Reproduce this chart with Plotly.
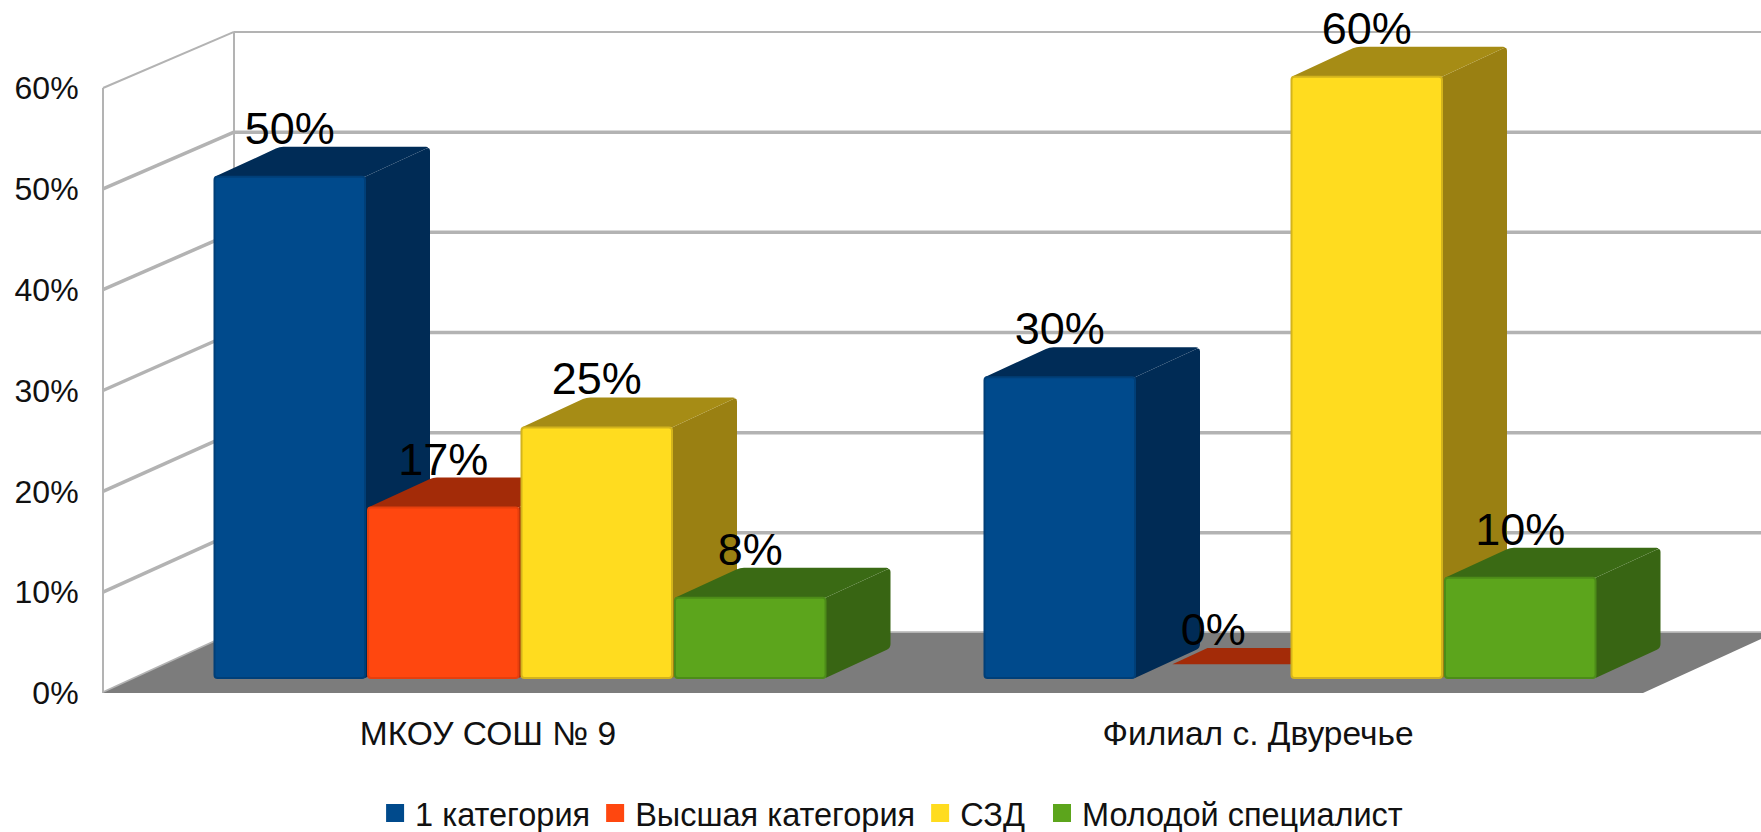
import plotly.graph_objects as go

# ---- data ----
categories = ["МКОУ СОШ № 9", "Филиал с. Двуречье"]
series_names = ["1 категория", "Высшая категория", "СЗД", "Молодой специалист"]
s1_values = [50, 30]
s2_values = [17, 0]
s3_values = [25, 60]
s4_values = [8, 10]
y_ticks = [0, 10, 20, 30, 40, 50, 60]
y_tick_labels = ["0%", "10%", "20%", "30%", "40%", "50%", "60%"]

# ---- style ----
front_colors = ["#004a8c", "#ff470f", "#ffdc1f", "#5ca51c"]
edge_colors = ["#003f78", "#e63f0d", "#d4b41c", "#4c8c18"]
side_colors = ["#002b55", "#a32b08", "#9a8012", "#386513"]
top_colors = ["#002c57", "#a32b08", "#a68c15", "#3a6a14"]
GRID = "#b3b3b3"
FLOOR = "#7c7c7c"
FONT = "Liberation Sans"

W, H = 1761, 832
PX_X = 770.0          # pixels per category
PX_Y = 10.083         # pixels per percent on the front plane
L, B = 101, 139
x0 = -0.5 - 2 / PX_X
x1 = x0 + (W - L) / PX_X
y1 = (H - B) / PX_Y

WALL_DX, WALL_DY = 131 / PX_X, 60 / PX_Y     # depth of the chart box
BAR_DX, BAR_DY = 65 / PX_X, 30 / PX_Y        # depth of a bar
PLANE_DX, PLANE_DY = 32 / PX_X, 15 / PX_Y    # bars stand half way in the box
BACK_SCALE = 0.9935   # perspective shrink of the back wall
BAR_SCALE = 0.994
SLOT = 153.5 / PX_X
BAR_W = 150.5 / PX_X
LABEL_RISE = 4.4


def rounded(points, corners=()):
    """SVG path in data units; vertices listed in corners get a small curve."""
    n = len(points)
    d = []
    for i, (x, y) in enumerate(points):
        if i in corners:
            px, py = points[i - 1]
            nx, ny = points[(i + 1) % n]

            def toward(ax, ay):
                ddx, ddy = (ax - x) * PX_X, (ay - y) * PX_Y
                dist = (ddx ** 2 + ddy ** 2) ** 0.5 or 1
                t = min(4 / dist, 0.5)
                return x + (ax - x) * t, y + (ay - y) * t

            a, b = toward(px, py), toward(nx, ny)
            d.append(f"{'L' if d else 'M'}{a[0]},{a[1]}")
            d.append(f"Q{x},{y} {b[0]},{b[1]}")
        else:
            d.append(f"{'L' if d else 'M'}{x},{y}")
    return " ".join(d) + " Z"


def poly(points, fill, corners=()):
    return dict(type="path", xref="x", yref="y", layer="below",
                path=rounded(points, corners=corners), fillcolor=fill,
                line=dict(width=0))


def seg(xa, ya, xb, yb, width):
    return dict(type="line", xref="x", yref="y", layer="below", x0=xa, y0=ya, x1=xb, y1=yb,
                line=dict(color=GRID, width=width))


shapes = []
xl = -0.5
xr = 1.5

# walls
top_tick = y_ticks[-1]
shapes.append(seg(xl, 0, xl, top_tick, 2))
shapes.append(seg(xl + WALL_DX, WALL_DY, xl + WALL_DX, WALL_DY + top_tick * BACK_SCALE, 2))
for t in y_ticks:
    width = 2 if t == top_tick else 3.5
    back = WALL_DY + t * BACK_SCALE
    shapes.append(seg(xl, t, xl + WALL_DX, back, width))
    shapes.append(seg(xl + WALL_DX, back, x1 + 1, back, width))

# floor
shapes.append(poly([(xl, 0), (xr, 0), (xr + WALL_DX, WALL_DY), (xl + WALL_DX, WALL_DY)], FLOOR))

all_values = [s1_values, s2_values, s3_values, s4_values]
fig = go.Figure()
label_x, label_y, label_t = [], [], []
base = PLANE_DY

for si, values in enumerate(all_values):
    xs, ys, lws = [], [], []
    for ci, v in enumerate(values):
        cx = ci + PLANE_DX + (si - 1.5) * SLOT
        a, b = cx - BAR_W / 2, cx + BAR_W / 2
        top = base + v * BAR_SCALE
        if v > 0:
            shapes.append(poly([(b, base), (b + BAR_DX, base + BAR_DY),
                                (b + BAR_DX, top + BAR_DY), (b, top)],
                               side_colors[si], corners=(1, 2)))
            shapes.append(poly([(a, top), (a + BAR_DX, top + BAR_DY),
                                (b + BAR_DX, top + BAR_DY), (b, top)],
                               top_colors[si], corners=(1, 2)))
        else:
            f = 0.46
            a2 = cx - SLOT / 2 + 6 / PX_X
            shapes.append(poly([(a2 + f * BAR_DX, top + f * BAR_DY), (a2 + BAR_DX, top + BAR_DY),
                                (b + BAR_DX, top + BAR_DY), (b + f * BAR_DX, top + f * BAR_DY)],
                               top_colors[si]))
        xs.append(cx)
        ys.append(v * BAR_SCALE)
        lws.append(2 if v > 0 else 0)
        label_x.append(cx)
        label_y.append(top + LABEL_RISE)
        label_t.append(f"{v}%")
    fig.add_trace(go.Bar(x=xs, y=ys, base=base, width=BAR_W, name=series_names[si],
                         marker=dict(color=front_colors[si], cornerradius=3,
                                     line=dict(color=edge_colors[si], width=lws)),
                         showlegend=False, hoverinfo="skip"))

fig.add_trace(go.Scatter(x=label_x, y=label_y, text=label_t, mode="text",
                         textposition="middle center",
                         textfont=dict(family=FONT, size=45, color="#000000"),
                         showlegend=False, hoverinfo="skip", cliponaxis=False))

for si, name in enumerate(series_names):
    fig.add_trace(go.Scatter(x=[None], y=[None], mode="markers", name=name,
                             legend="legend2" if si == 3 else "legend",
                             marker=dict(symbol="square", size=16, color=front_colors[si],
                                         line=dict(color=front_colors[si], width=2))))

legend_style = dict(orientation="h", xref="container", yref="container", xanchor="left",
                    y=0.056, yanchor="top", font=dict(family=FONT, size=32.5, color="#111111"),
                    bgcolor="rgba(0,0,0,0)", itemclick=False, itemdoubleclick=False,
                    tracegroupgap=0)

fig.update_layout(
    width=W, height=H, autosize=False,
    paper_bgcolor="white", plot_bgcolor="white",
    margin=dict(l=L, r=0, t=0, b=B, pad=0),
    barmode="overlay", shapes=shapes, showlegend=True,
    font=dict(family=FONT, size=32, color="#000000"),
    xaxis=dict(range=[x0, x1], tickmode="array", tickvals=[0, 1], ticktext=categories,
               showgrid=False, zeroline=False, showline=False, ticks="outside", ticklen=11,
               tickcolor="rgba(0,0,0,0)", tickfont=dict(family=FONT, size=33.5, color="#111111")),
    yaxis=dict(range=[0, y1], tickmode="array", tickvals=y_ticks, ticktext=y_tick_labels,
               showgrid=False, zeroline=False, showline=False, ticks="outside", ticklen=15,
               tickcolor="rgba(0,0,0,0)", tickfont=dict(family=FONT, size=32, color="#111111")),
    legend=dict(x=0.213, **legend_style),
    legend2=dict(x=0.5917, **legend_style),
)

fig.write_html("out.html", config={"displayModeBar": False},
               post_script="document.body.style.margin='0';document.documentElement.style.overflow='hidden';window.dispatchEvent(new Event('resize'));")
